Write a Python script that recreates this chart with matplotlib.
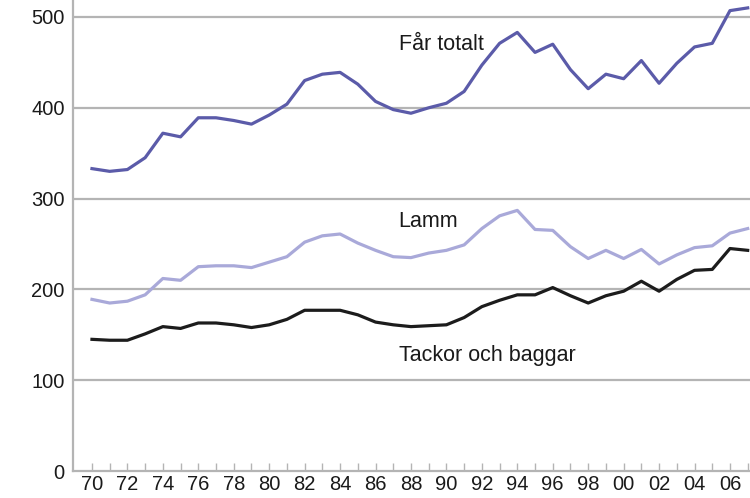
import numpy as np
import matplotlib.pyplot as plt

plt.rcParams['font.family'] = ['Liberation Sans', 'DejaVu Sans']

years = list(range(1970, 2008))

far_totalt = [333, 330, 332, 345, 372, 368, 389, 389, 386, 382,
              392, 404, 430, 437, 439, 426, 407, 398, 394, 400,
              405, 418, 447, 471, 483, 461, 470, 442, 421, 437,
              432, 452, 427, 449, 467, 471, 507, 510]

lamm = [189, 185, 187, 194, 212, 210, 225, 226, 226, 224,
        230, 236, 252, 259, 261, 251, 243, 236, 235, 240,
        243, 249, 267, 281, 287, 266, 265, 247, 234, 243,
        234, 244, 228, 238, 246, 248, 262, 267]

tackor = [145, 144, 144, 151, 159, 157, 163, 163, 161, 158,
          161, 167, 177, 177, 177, 172, 164, 161, 159, 160,
          161, 169, 181, 188, 194, 194, 202, 193, 185, 193,
          198, 209, 198, 211, 221, 222, 245, 243]

xtick_labels = ['70', '72', '74', '76', '78', '80', '82', '84', '86', '88',
                '90', '92', '94', '96', '98', '00', '02', '04', '06']

fig = plt.figure(figsize=(7.5, 4.98), dpi=100)
ax = fig.add_axes([73 / 750, 27 / 498, 1 - 73 / 750, 1 - 27 / 498])

grid_col = '#b4b4b4'
for v in [100, 200, 300, 400, 500]:
    ax.axhline(v, color=grid_col, lw=1.6, zorder=1)

ax.plot(years, tackor, color='#1c1c1c', lw=2.3, zorder=3)
ax.plot(years, lamm, color='#a9a9d9', lw=2.3, zorder=3)
ax.plot(years, far_totalt, color='#5b5ba9', lw=2.3, zorder=3, clip_on=False)

ax.set_xlim(1968.93, 2007.13)
ax.set_ylim(0, 518.7)

ax.set_yticks([0, 100, 200, 300, 400, 500])
ax.tick_params(axis='y', length=0, pad=6, labelsize=14.5, colors='#1a1a1a')

ax.set_xticks(years, minor=True)
ax.set_xticks(range(1970, 2008, 2))
ax.set_xticklabels(xtick_labels)
ax.tick_params(axis='x', which='both', direction='in', length=6, width=1,
               color=grid_col, labelsize=14.5, labelcolor='#1a1a1a', pad=3)

for s in ['top', 'right']:
    ax.spines[s].set_visible(False)
for s in ['left', 'bottom']:
    ax.spines[s].set_color(grid_col)
    ax.spines[s].set_linewidth(1.6)

ax.text(1987.3, 470, 'Får totalt', fontsize=15.5, color='#1a1a1a', va='center')
ax.text(1987.3, 275, 'Lamm', fontsize=15.5, color='#1a1a1a', va='center')
ax.text(1987.3, 127, 'Tackor och baggar', fontsize=15.5, color='#1a1a1a', va='center')

fig.text(30 / 750, 0.995, '1 000-tal', fontsize=14.5, color='#1a1a1a', va='bottom')

fig.savefig('out.png', dpi=100)
